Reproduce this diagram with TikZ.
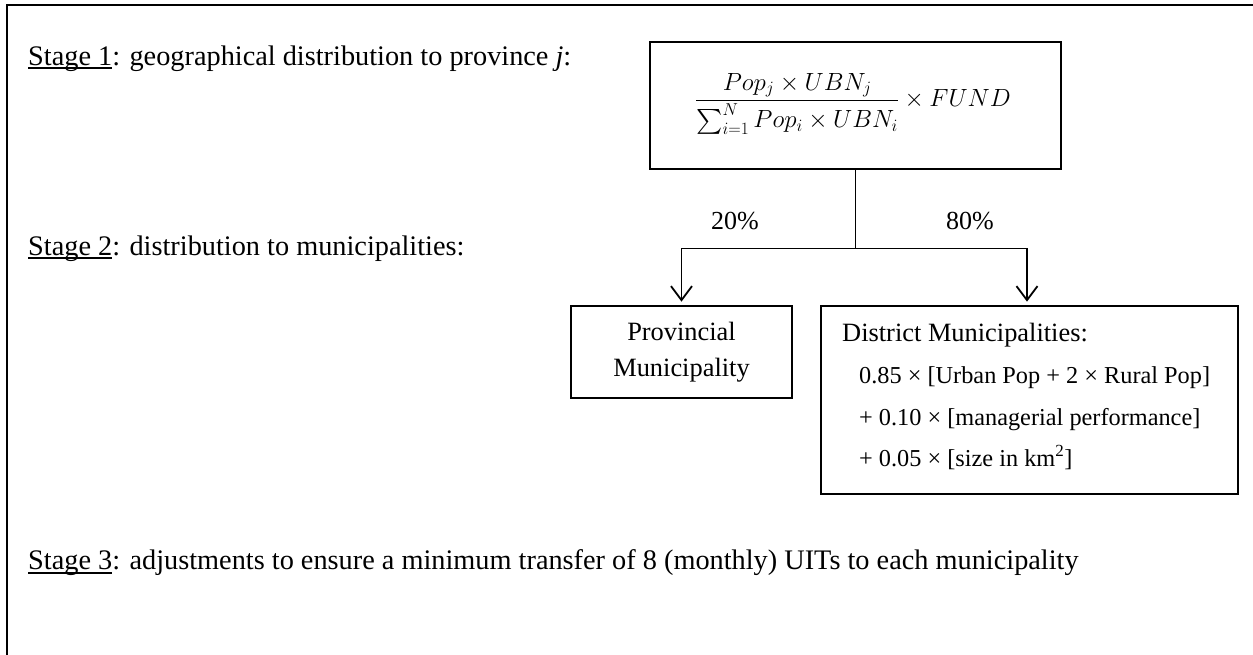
\documentclass[tikz,border=0pt]{standalone}
\usepackage{amsmath}
\usepackage{exscale}
\usepackage{fontspec}
\setmainfont{Liberation Serif}
\usetikzlibrary{arrows.meta}
\newcommand\myul[1]{\setbox0\hbox{#1}\rlap{\rule[-4pt]{\wd0}{1.6pt}}#1}
\begin{document}
\begin{tikzpicture}[x=1pt,y=-1pt,
  stagetxt/.style={font=\fontsize{28.3}{34}\selectfont, inner sep=0pt, anchor=base west},
  boxtxt/.style={font=\fontsize{26.4}{36}\selectfont, inner sep=0pt},
  formtxt/.style={font=\fontsize{24.3}{30}\selectfont, inner sep=0pt, anchor=base west},
  boxnode/.style={draw, line width=1.8pt, inner sep=0pt},
  conn/.style={line width=1.8pt},
  arr/.style={line width=1.8pt, -{Straight Barb[length=14pt,width=21pt,line width=1.8pt]}, shorten >=3.5pt}
]
\useasboundingbox (0,0) rectangle (1253,654);
% outer frame (top and left edges visible)
\draw[line width=2pt] (7,700) -- (7,5) -- (1260,5);

\node[stagetxt] (s1) at (28,65) {\myul{Stage 1}: geographical distribution to province \textit{j}:};
\node[stagetxt] (s2) at (28,255) {\myul{Stage 2}: distribution to municipalities:};
\node[stagetxt] (s3) at (28,569.5) {\myul{Stage 3}: adjustments to ensure a minimum transfer of 8 (monthly) UITs to each municipality};

\node[boxnode, minimum width=411pt, minimum height=127pt] (fbox) at (855.5,105.5) {};
\node[inner sep=0pt, font=\fontsize{24}{30}\selectfont] (formula) at (853,104)
  {$\displaystyle \frac{Pop_j\times UBN_j}{\sum_{i=1}^{N} Pop_i\times UBN_i}\times FUND$};

\node[boxnode, boxtxt, minimum width=221pt, minimum height=92pt, align=center] (prov) at (681.5,352) {Provincial\\Municipality};
\node[boxnode, minimum width=417pt, minimum height=188pt] (dist) at (1029.5,400) {};

\node[boxtxt, anchor=base west] (d0) at (842,341.5) {District Municipalities:};
\node[formtxt] (d1) at (859,383.5) {0.85 × [Urban Pop + 2 × Rural Pop]};
\node[formtxt] (d2) at (859,425) {+ 0.10 × [managerial performance]};
\node[formtxt] (d3) at (859,466) {+ 0.05 × [size in km\textsuperscript{2}]};

\coordinate (split) at (855.5,248.5);
\draw[conn] (fbox.south) -- (split);
\draw[arr] (split) -| (prov.north);
\draw[arr] (split) -| ([xshift=-2.5pt]dist.north);

\node[boxtxt, anchor=base, font=\fontsize{26}{30}\selectfont] (p20) at (735,229.3) {20\%};
\node[boxtxt, anchor=base, font=\fontsize{26}{30}\selectfont] (p80) at (970,229.3) {80\%};
\end{tikzpicture}
\end{document}
